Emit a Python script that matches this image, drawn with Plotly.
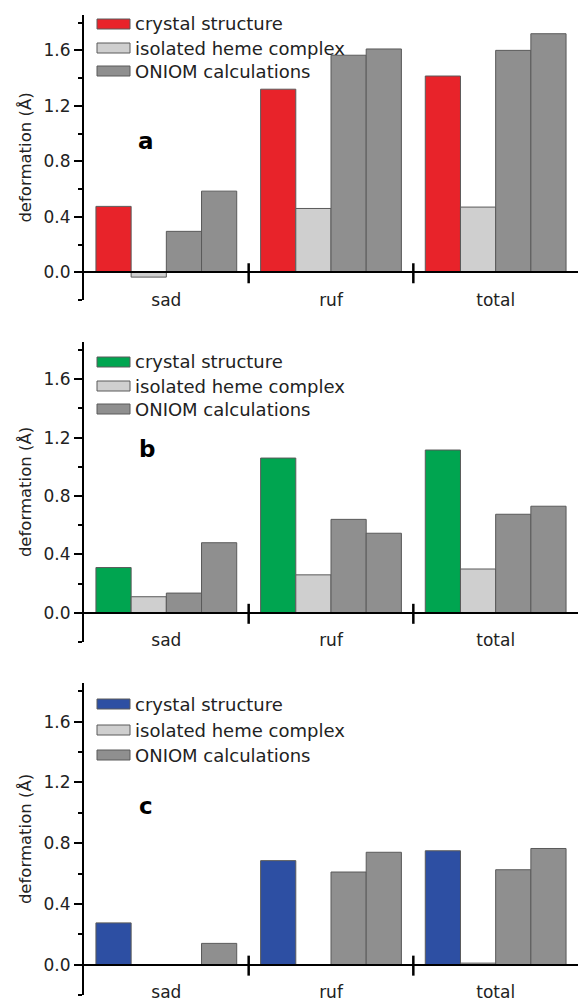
import plotly.graph_objects as go

# ---------------- data ----------------
categories = ["sad", "ruf", "total"]
panel_labels = ["a", "b", "c"]
legend_names = ["crystal structure", "isolated heme complex", "ONIOM calculations"]

crystal_a = [0.475, 1.32, 1.415]
isolated_a = [-0.035, 0.46, 0.47]
oniom1_a = [0.295, 1.565, 1.60]
oniom2_a = [0.585, 1.61, 1.72]

crystal_b = [0.31, 1.06, 1.115]
isolated_b = [0.11, 0.26, 0.30]
oniom1_b = [0.135, 0.64, 0.675]
oniom2_b = [0.48, 0.545, 0.73]

crystal_c = [0.275, 0.685, 0.75]
isolated_c = [0.0, 0.0, 0.01]
oniom1_c = [0.0, 0.61, 0.625]
oniom2_c = [0.14, 0.74, 0.765]

y_tick_values = [0.0, 0.4, 0.8, 1.2, 1.6]

# ---------------- style ----------------
W, H = 578, 1001
ML = 84
FONT = "DejaVu Sans"
crystal_colors = ["#E8232A", "#00A550", "#2D4FA3"]
isolated_color = "#CFCFCF"
oniom_color = "#8F8F8F"
edge_color = "#5A5A5A"
y_min, y_max = -0.2, 1.855

panel_px = [(15, 300), (342, 642), (683, 995)]          # top/bottom of each y axis (px)
legend_rows_px = [[24, 48, 71], [362, 386, 409], [704, 730, 755]]
letter_px = [(146, 141), (147, 449), (146, 806)]

panels = [
    (crystal_a, isolated_a, oniom1_a, oniom2_a),
    (crystal_b, isolated_b, oniom1_b, oniom2_b),
    (crystal_c, isolated_c, oniom1_c, oniom2_c),
]

fig = go.Figure()
shapes = []
annotations = []

def py(px):
    return 1 - px / H

def pxx(px):
    return (px - ML) / (W - ML)

for i, (cry, iso, on1, on2) in enumerate(panels):
    n = "" if i == 0 else str(i + 1)
    xa, ya = "x" + n, "y" + n
    series = [
        (cry, crystal_colors[i], legend_names[0]),
        (iso, isolated_color, legend_names[1]),
        (on1, oniom_color, legend_names[2]),
        (on2, oniom_color, legend_names[2]),
    ]
    for vals, col, name in series:
        fig.add_trace(go.Bar(
            x=categories, y=vals, name=name, xaxis=xa, yaxis=ya,
            marker=dict(color=col, line=dict(color=edge_color, width=1)),
            showlegend=False,
        ))

    top, bot = panel_px[i]
    d0, d1 = py(bot), py(top)
    zero_pos = d0 + (0 - y_min) / (y_max - y_min) * (d1 - d0)

    fig.layout["xaxis" + n] = dict(
        type="category", domain=[0, 1], range=[-0.5, len(categories) - 0.5],
        anchor="free", position=zero_pos,
        showline=True, linecolor="black", linewidth=2,
        ticks="", showgrid=False, zeroline=False,
        tickfont=dict(family=FONT, size=17, color="#222"),
        ticklabelstandoff=12,
    )
    fig.layout["yaxis" + n] = dict(
        domain=[d0, d1], range=[y_min, y_max], anchor=xa,
        showline=True, linecolor="black", linewidth=2,
        ticks="outside", ticklen=8, tickwidth=1.5, tickcolor="black",
        tickmode="array", tickvals=y_tick_values, tickformat=".1f",
        minor=dict(tickmode="linear", tick0=0, dtick=0.2, ticks="outside",
                   ticklen=4, tickwidth=1.5, tickcolor="black"),
        showgrid=False, zeroline=False,
        tickfont=dict(family=FONT, size=17, color="#222"),
        title=dict(text="deformation (Å)", font=dict(family=FONT, size=16.5, color="#222"),
                   standoff=8),
    )

    # category separator ticks crossing the x axis
    for k in range(len(categories) - 1):
        shapes.append(dict(
            type="line", xref=xa, yref=ya, ysizemode="pixel", yanchor=0,
            x0=k + 0.5, x1=k + 0.5, y0=-11, y1=9,
            line=dict(color="black", width=2.5),
        ))

    # legend (drawn per panel)
    legend_colors = [crystal_colors[i], isolated_color, oniom_color]
    for r, (name, col) in enumerate(zip(legend_names, legend_colors)):
        cy = legend_rows_px[i][r]
        shapes.append(dict(
            type="rect", xref="paper", yref="paper",
            x0=pxx(97), x1=pxx(130), y0=py(cy + 5), y1=py(cy - 5),
            fillcolor=col, line=dict(color=edge_color, width=1),
        ))
        annotations.append(dict(
            text=name, xref="paper", yref="paper", x=pxx(133), y=py(cy),
            xanchor="left", yanchor="middle", showarrow=False,
            font=dict(family=FONT, size=18, color="#222"),
        ))

    lx, ly = letter_px[i]
    annotations.append(dict(
        text="<b>%s</b>" % panel_labels[i], xref="paper", yref="paper",
        x=pxx(lx), y=py(ly), xanchor="center", yanchor="middle", showarrow=False,
        font=dict(family=FONT, size=23, color="black"),
    ))

fig.update_layout(
    width=W, height=H,
    margin=dict(l=ML, r=0, t=0, b=0),
    paper_bgcolor="white", plot_bgcolor="white",
    barmode="group", bargap=0.145, bargroupgap=0,
    shapes=shapes, annotations=annotations,
    showlegend=False,
    font=dict(family=FONT),
)

fig.write_html("out.html")
